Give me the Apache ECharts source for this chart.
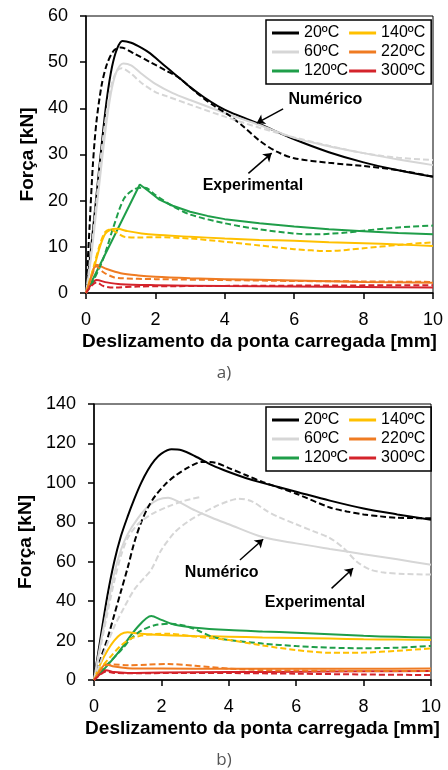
<!DOCTYPE html>
<html>
<head>
<meta charset="utf-8">
<script src="https://cdn.jsdelivr.net/npm/echarts@6/dist/echarts.min.js"></script>
<style>
  html, body { margin: 0; padding: 0; background: #fff; }
  #chart { width: 448px; height: 770px; }
</style>
</head>
<body>
<div id="chart"></div>
<script>
// legenda / categorias
const temps = ['20ºC', '60ºC', '120ºC', '140ºC', '220ºC', '300ºC'];
const colors = ['#000000', '#d6d6d6', '#1f9e49', '#ffc000', '#ef7b22', '#d4232b'];

// a) [deslizamento mm, força kN]
const a20num = [[0,0],[0.15,10],[0.3,21],[0.45,32],[0.6,42],[0.75,49],[0.9,53],[1.05,54.6],[1.3,54.2],[1.6,53.1],[1.85,51.9],[2.1,50.3],[2.4,48.4],[2.7,46.5],[3,44.6],[3.4,42.4],[3.8,40.5],[4.2,39],[4.6,37.8],[5,36.6],[6,33.3],[7,30.5],[8,28.3],[9,26.6],[10,25.2]];
const a20exp = [[0,0],[0.1,14],[0.2,28],[0.3,37],[0.45,45],[0.6,49.5],[0.8,52.5],[1,53.2],[1.4,51.8],[1.85,50],[2.3,48.2],[2.7,46.5],[3.2,43.3],[3.7,40.5],[4.1,38.6],[4.5,36.3],[5,33],[5.5,30.6],[6,29.2],[7,28.2],[8,27.5],[9,26.6],[10,25.2]];
const a60num = [[0,0],[0.15,8],[0.3,18],[0.45,28],[0.6,37.5],[0.75,44.5],[0.9,48.3],[1.08,49.7],[1.3,49.3],[1.6,47.5],[2,45.3],[2.5,43.3],[3,41.8],[4,39],[5,36.4],[6,33.6],[7,31.8],[8,30.3],[9,28.9],[10,27.7]];
const a60exp = [[0,0],[0.15,9],[0.3,20],[0.45,31],[0.6,39.5],[0.75,45.5],[0.9,48.2],[1.03,48.7],[1.3,47.5],[1.6,45.5],[2,43.5],[2.3,42.7],[3,40.8],[4,38.2],[5,35.8],[6,33.7],[7,31.9],[8,30.3],[9,29.3],[10,28.8]];
const a120num = [[0,0],[1.55,23.5],[1.8,22.1],[2.1,20.3],[2.5,18.9],[3,17.6],[3.5,16.7],[4,16],[5,15.1],[6,14.4],[7,13.8],[8,13.4],[9,13],[10,12.7]];
const a120exp = [[0,0],[0.2,2.5],[0.5,7.5],[0.8,14.5],[1.1,20.5],[1.4,22.5],[1.7,22.8],[2,21.2],[2.5,18.8],[3,17],[4,15.1],[5,13.8],[6,12.9],[6.6,12.7],[7.5,13.1],[8,13.5],[9,14.2],[10,14.6]];
const a140num = [[0,0],[0.12,2.8],[0.25,6],[0.4,10],[0.55,12.8],[0.7,13.7],[0.9,13.9],[1.2,13.4],[1.6,12.9],[2,12.6],[3,12.2],[4,11.8],[5,11.5],[6,11.3],[7,11],[8,10.8],[9,10.5],[10,10.2]];
const a140exp = [[0,0],[0.12,3],[0.25,6.5],[0.4,10.5],[0.55,13.2],[0.7,13.8],[0.9,13],[1.1,12.2],[1.5,12],[2,12.1],[3,11.8],[4,11.1],[5,10.3],[6,9.5],[7,9.1],[8,9.7],[9,10.4],[10,11]];
const a220num = [[0,0],[0.15,3.5],[0.3,6.1],[0.6,5.2],[1,4.3],[1.5,3.8],[2,3.5],[3,3.2],[4,3],[6,2.7],[8,2.4],[10,2.2]];
const a220exp = [[0,0],[0.15,3.2],[0.3,5.8],[0.5,4.5],[0.8,3.4],[1,3.2],[2,3],[4,2.8],[6,2.6],[8,2.5],[10,2.4]];
const a300num = [[0,0],[0.15,1.8],[0.3,2.8],[0.6,2.3],[1,1.9],[2,1.7],[4,1.5],[6,1.4],[8,1.3],[10,1.2]];
const a300exp = [[0,0],[0.15,1.5],[0.3,2.3],[0.5,1.5],[0.8,1.2],[1.5,1.4],[3,1.5],[6,1.6],[10,1.7]];

// b)
const b20num = [[0,0],[0.2,22],[0.4,43],[0.6,60],[0.8,73],[1,83],[1.2,92],[1.4,100],[1.6,106.5],[1.8,111.5],[2,114.8],[2.3,117],[2.6,116.5],[3,113.5],[3.5,109],[4,105.5],[4.5,102.5],[5,100],[6,95.5],[7,91],[8,87],[9,84],[10,81.3]];
const b20exp = [[0,0],[0.2,11],[0.4,21],[0.6,33],[0.8,45],[1,57],[1.2,70],[1.4,80],[1.6,87.5],[1.8,93],[2.1,99],[2.4,103.5],[2.8,107.8],[3.2,110.6],[3.6,110.2],[4,107.5],[4.5,104],[5,100.5],[6,94.5],[7,87.5],[7.5,85.5],[8,84],[8.5,83],[9,82.3],[10,82]];
const b60num = [[0,0],[0.2,19],[0.4,37],[0.6,54],[0.8,66],[1,74],[1.3,82],[1.6,88],[1.9,91.5],[2.2,92.5],[2.5,90.5],[3,86],[3.5,82.3],[4,79],[5,72.5],[6,69.3],[7,66.5],[8,63.8],[9,61.2],[10,58.5]];
const b60exp1 = [[0,0],[0.2,17],[0.4,34],[0.6,50],[0.8,63],[1,72],[1.3,79],[1.7,84],[2.2,88],[2.7,91],[3.2,93]];
const b60exp2 = [[0,0],[0.3,14],[0.6,27],[0.9,37],[1.2,46],[1.5,52],[1.7,56],[2,66],[2.4,75],[2.8,80.5],[3.2,84.5],[3.6,88],[4,90.8],[4.3,92],[4.7,90.5],[5.1,86],[5.5,82.5],[6,79],[6.5,75.5],[7,72],[7.4,67],[7.8,60],[8.2,56],[8.6,54.5],[9.2,53.8],[10,53.5]];
const b120num = [[0,0],[0.3,5.5],[0.7,13.5],[1.3,27],[1.7,32.5],[2,30.5],[2.4,28],[3,26.5],[4,25.3],[5,24.6],[6,24],[7,23.2],[8,22.4],[9,21.9],[10,21.5]];
const b120exp = [[0,0],[0.3,6],[0.6,11.5],[0.85,16],[1.1,21],[1.4,25],[1.8,27.8],[2.3,28.5],[2.7,27.5],[3.1,25],[3.5,22],[4,20.3],[5,18.5],[6,17.2],[7,16.4],[8,16.1],[9,16.4],[10,17.3]];
const b140num = [[0,0],[0.2,8.5],[0.4,15],[0.6,20],[0.8,23.3],[1,24.2],[1.3,23.6],[2,22.8],[3,22.3],[4,22],[5,21.6],[6,21.3],[7,21],[8,20.7],[9,20.5],[10,20.3]];
const b140exp = [[0,0],[0.2,6],[0.5,12],[0.8,17.5],[1.1,21],[1.4,22.5],[1.8,23.3],[2.2,23.5],[3,22],[4,20.3],[5,17.5],[6,15.2],[7,13.8],[8,13.9],[9,14.8],[10,16]];
const b220num = [[0,0],[0.15,4],[0.35,8],[0.6,6.8],[1,6],[2,5.8],[4,5.7],[6,5.7],[8,5.7],[10,5.8]];
const b220exp = [[0,0],[0.15,4],[0.35,7.5],[0.6,7.8],[1,7.5],[1.6,7.8],[2.2,8.1],[3,7.2],[4,5.8],[5,5],[6,4.8],[8,4.6],[10,4.6]];
const b300num = [[0,0],[0.15,2.5],[0.35,5],[0.6,4],[1,3.6],[2,3.8],[4,4],[6,4.2],[8,4.4],[10,4.6]];
const b300exp = [[0,0],[0.15,2.2],[0.35,4.3],[0.6,3.6],[1,3.4],[2,3.5],[4,3.5],[6,3.2],[8,2.8],[10,2.5]];

const FONT = 'Liberation Sans, Arial, sans-serif';

function line(name, data, color, dashed, idx) {
  return {
    name: name,
    type: 'line',
    xAxisIndex: idx,
    yAxisIndex: idx,
    data: data,
    symbol: 'none',
    smooth: 0.3,
    lineStyle: { color: color, width: 2, type: dashed ? [6, 3] : 'solid' },
    itemStyle: { color: color },
    z: dashed ? 3 : 2,
  };
}

function note(text, at, from, to) {
  return {
    markPoint: {
      symbol: 'rect',
      symbolSize: 1,
      itemStyle: { color: 'rgba(0,0,0,0)' },
      label: { show: true, position: 'inside', formatter: '{b}', color: '#000', fontWeight: 'bold', fontSize: 16, fontFamily: FONT },
      data: [{ name: text, coord: at }],
    },
    markLine: {
      silent: true,
      symbol: ['none', 'arrow'],
      symbolSize: 8,
      label: { show: false },
      lineStyle: { color: '#000', width: 1.5, type: 'solid' },
      data: [[{ coord: from }, { coord: to }]],
    },
  };
}

function annSeries(idx, notes) {
  // serie vazia só para as anotações
  return notes.map((n) => Object.assign({
    type: 'line', xAxisIndex: idx, yAxisIndex: idx, data: [], symbol: 'none', z: 5,
  }, note(n[0], n[1], n[2], n[3])));
}

const seriesA = [
  line(temps[0], a20num, colors[0], false, 0),
  line(temps[1], a60num, colors[1], false, 0),
  line(temps[2], a120num, colors[2], false, 0),
  line(temps[3], a140num, colors[3], false, 0),
  line(temps[4], a220num, colors[4], false, 0),
  line(temps[5], a300num, colors[5], false, 0),
  line('a20exp', a20exp, colors[0], true, 0),
  line('a60exp', a60exp, colors[1], true, 0),
  line('a120exp', a120exp, colors[2], true, 0),
  line('a140exp', a140exp, colors[3], true, 0),
  line('a220exp', a220exp, colors[4], true, 0),
  line('a300exp', a300exp, colors[5], true, 0),
];
seriesA[2].smooth = false;

const seriesB = [
  line(temps[0], b20num, colors[0], false, 1),
  line(temps[1], b60num, colors[1], false, 1),
  line(temps[2], b120num, colors[2], false, 1),
  line(temps[3], b140num, colors[3], false, 1),
  line(temps[4], b220num, colors[4], false, 1),
  line(temps[5], b300num, colors[5], false, 1),
  line('b20exp', b20exp, colors[0], true, 1),
  line('b60exp1', b60exp1, colors[1], true, 1),
  line('b60exp2', b60exp2, colors[1], true, 1),
  line('b120exp', b120exp, colors[2], true, 1),
  line('b140exp', b140exp, colors[3], true, 1),
  line('b220exp', b220exp, colors[4], true, 1),
  line('b300exp', b300exp, colors[5], true, 1),
];

const annA = annSeries(0, [
  ['Numérico', [6.9, 41.8], [5.68, 39.9], [4.92, 36.8]],
  ['Experimental', [4.81, 23.2], [4.68, 25.9], [5.35, 30.3]],
]);
const annB = annSeries(1, [
  ['Numérico', [3.79, 54.5], [4.33, 60.9], [5.02, 71.4]],
  ['Experimental', [6.56, 39.2], [7.05, 46.5], [7.69, 56.7]],
]);

function xAx(idx) {
  return {
    type: 'value', gridIndex: idx, min: 0, max: 10, interval: 2,
    name: 'Deslizamento da ponta carregada [mm]', nameLocation: 'middle', nameGap: 39,
    nameTextStyle: { fontFamily: FONT, fontWeight: 'bold', fontSize: 19, color: '#000' },
    axisLine: { show: true, lineStyle: { color: '#000', width: 1.5 } },
    axisTick: { show: true, length: 6, lineStyle: { color: '#000', width: 1.5 } },
    axisLabel: { fontFamily: FONT, fontSize: 18, color: '#000', margin: 18 },
    splitLine: { show: false },
  };
}
function yAx(idx, max, interval) {
  return {
    type: 'value', gridIndex: idx, min: 0, max: max, interval: interval,
    name: 'Força [kN]', nameLocation: 'middle', nameGap: 49,
    nameTextStyle: { fontFamily: FONT, fontWeight: 'bold', fontSize: 19, color: '#000' },
    axisLine: { show: true, lineStyle: { color: '#000', width: 1.5 } },
    axisTick: { show: true, length: 6, lineStyle: { color: '#000', width: 1.5 } },
    axisLabel: { fontFamily: FONT, fontSize: 18, color: '#000', margin: 18 },
    splitLine: { show: false },
  };
}
function legend(top) {
  return {
    data: temps,
    orient: 'vertical',
    left: 266,
    top: top,
    height: 56,
    icon: 'rect',
    itemWidth: 27,
    itemHeight: 3,
    itemGap: 1,
    padding: [4, 6, 4, 6],
    borderColor: '#000',
    borderWidth: 1.5,
    selectedMode: false,
    textStyle: { fontFamily: FONT, fontSize: 16, color: '#000', lineHeight: 18 },
  };
}

const chart = echarts.init(document.getElementById('chart'));
chart.setOption({
  animation: false,
  backgroundColor: '#fff',
  title: [
    { text: 'a)', left: 'center', top: 360, textStyle: { fontFamily: 'Open Sans', fontWeight: 'normal', fontSize: 17, color: '#555' } },
    { text: 'b)', left: 'center', top: 747, textStyle: { fontFamily: 'Open Sans', fontWeight: 'normal', fontSize: 17, color: '#555' } },
  ],
  legend: [legend(20), legend(407)],
  grid: [
    { left: 86, right: 15, top: 16, height: 277, show: true, borderColor: '#000', borderWidth: 1 },
    { left: 94, right: 17, top: 404, height: 276, show: true, borderColor: '#000', borderWidth: 1 },
  ],
  xAxis: [xAx(0), xAx(1)],
  yAxis: [yAx(0, 60, 10), yAx(1, 140, 20)],
  series: seriesA.concat(seriesB, annA, annB),
});
</script>
</body>
</html>
